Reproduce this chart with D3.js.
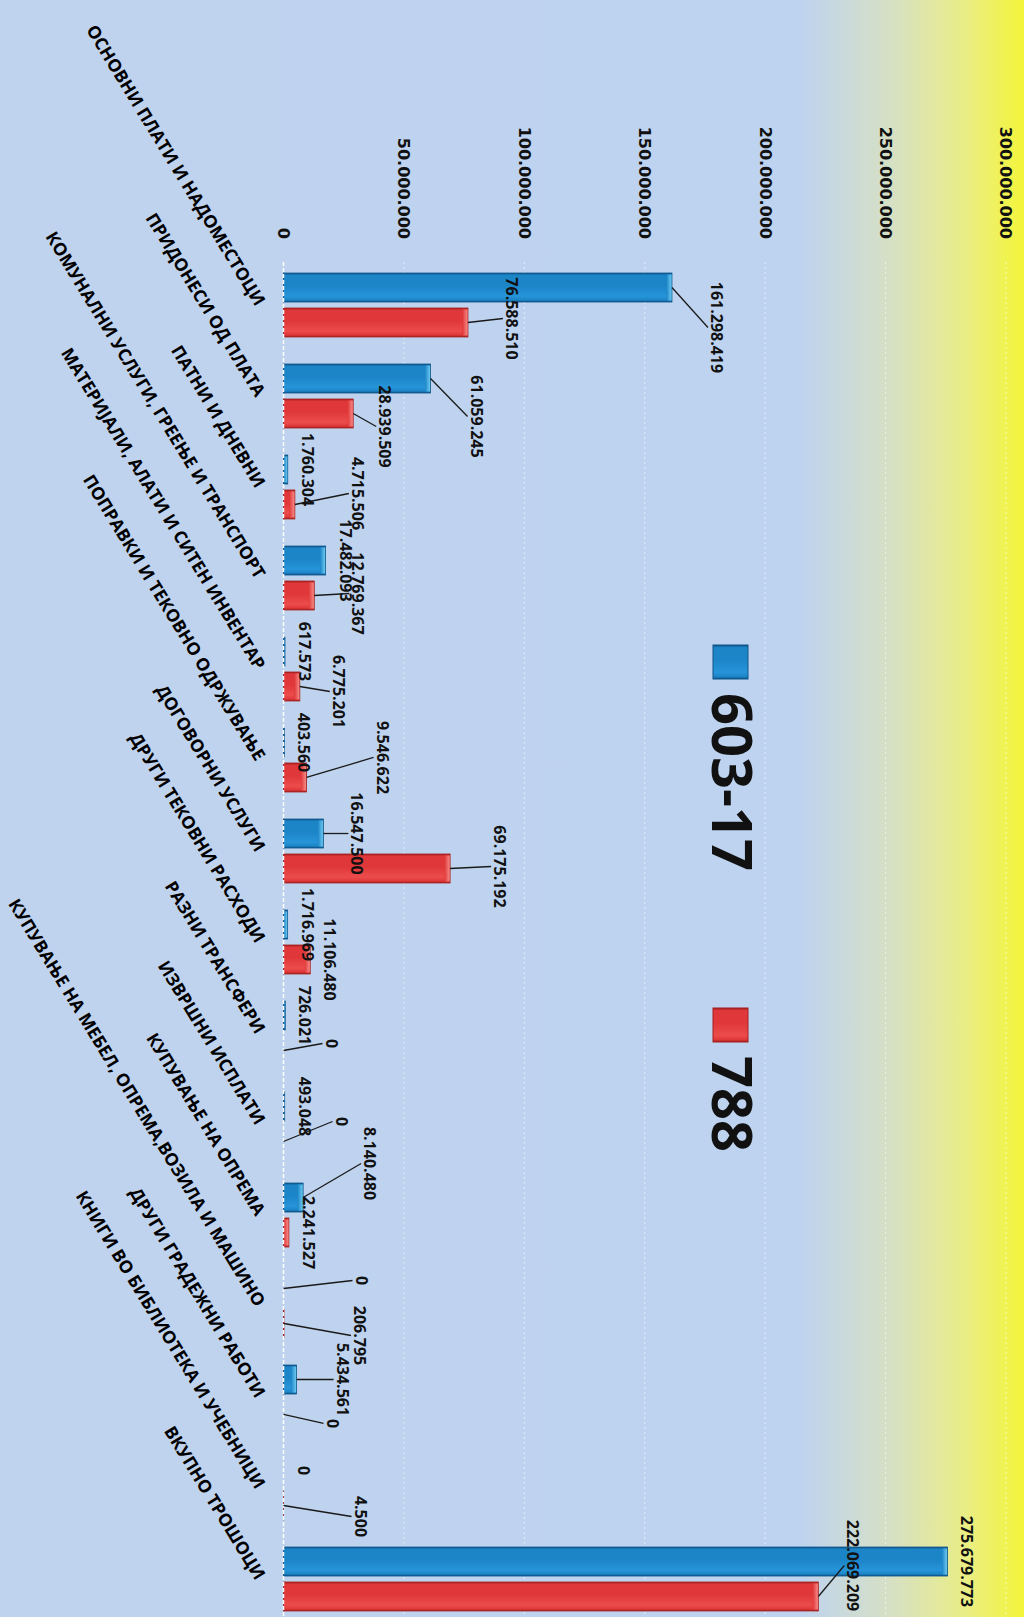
<!DOCTYPE html>
<html>
<head>
<meta charset="utf-8">
<script src="https://cdn.jsdelivr.net/npm/d3@7"></script>
<style>
  body { margin: 0; background: #bed3f0; }
  svg { display: block; }
</style>
</head>
<body>
<svg id="chart" width="1024" height="1617"></svg>
<script>
const categories = [
  "ОСНОВНИ ПЛАТИ И НАДОМЕСТОЦИ",
  "ПРИДОНЕСИ ОД ПЛАТА",
  "ПАТНИ И ДНЕВНИ",
  "КОМУНАЛНИ УСЛУГИ, ГРЕЕЊЕ И ТРАНСПОРТ",
  "МАТЕРИЈАЛИ, АЛАТИ И СИТЕН ИНВЕНТАР",
  "ПОПРАВКИ И ТЕКОВНО ОДРЖУВАЊЕ",
  "ДОГОВОРНИ УСЛУГИ",
  "ДРУГИ ТЕКОВНИ РАСХОДИ",
  "РАЗНИ ТРАНСФЕРИ",
  "ИЗВРШНИ ИСПЛАТИ",
  "КУПУВАЊЕ НА ОПРЕМА",
  "КУПУВАЊЕ НА МЕБЕЛ, ОПРЕМА,ВОЗИЛА И МАШИНО",
  "ДРУГИ ГРАДЕЖНИ РАБОТИ",
  "КНИГИ ВО БИБЛИОТЕКА И УЧЕБНИЦИ",
  "ВКУПНО ТРОШОЦИ"
];
const series = ["603-17", "788"];
const values603 = [161298419, 61059245, 1760304, 17482093, 617573, 403560, 16547500,
  1716969, 726021, 493048, 8140480, 0, 5434561, 0, 275679773];
const values788 = [76588510, 28939509, 4715506, 12769367, 6775201, 9546622, 69175192,
  11106480, 0, 0, 2241527, 206795, 0, 4500, 222069209];
const tickValues = [0, 50000000, 100000000, 150000000, 200000000, 250000000, 300000000];

// labels that were dragged away from the bar end: [along value, along category], null = default
const nudge603 = [[45, 40], [46, 38], null, null, null, null, [34, 0], null, null, null,
  [67, -34], [78, -8], [46, 0], null, null];
const nudge788 = [[44, -4], [32, 13], [63, -11], [44, -2], [39, 5], [76, -20], [50, -2], null,
  [48, -7], [58, -20], null, [76, 12], [49, 9], [77, 11], [35, -31]];

const colors = { "603-17": ["#0e5488", "#1c85c8", "#2794d9", "#6cc8ef"],
                 "788": ["#a4201f", "#e0383a", "#ec4c4c", "#f58a86"] };

const svg = d3.select("#chart");
const W = 1024, H = 1617;
const fmt = d3.formatLocale({ decimal: ",", thousands: ".", grouping: [3], currency: ["", ""] }).format(",d");

// background
const defs = svg.append("defs");
const bg = defs.append("linearGradient").attr("id", "bg").attr("x1", 0).attr("x2", 1).attr("y1", 0).attr("y2", 0);
[[0, "#bfd3ee"], [0.78, "#bed3f0"], [0.87, "#d6e0c4"], [0.94, "#e9ed88"], [1, "#f4f53a"]]
  .forEach(s => bg.append("stop").attr("offset", s[0]).attr("stop-color", s[1]));
svg.append("rect").attr("width", W).attr("height", H).attr("fill", "url(#bg)");

series.forEach((s, i) => {
  const c = colors[s];
  const gr = defs.append("linearGradient").attr("id", "bar" + i).attr("x1", 0).attr("x2", 1).attr("y1", 0).attr("y2", 0);
  [[0, c[0]], [0.08, c[1]], [0.45, c[1]], [0.8, c[2]], [0.93, c[1]], [1, c[0]]]
    .forEach(st => gr.append("stop").attr("offset", st[0]).attr("stop-color", st[1]));
  const cap = defs.append("linearGradient").attr("id", "cap" + i).attr("x1", 0).attr("x2", 0).attr("y1", 0).attr("y2", 1);
  cap.append("stop").attr("offset", 0).attr("stop-color", c[3]);
  cap.append("stop").attr("offset", 1).attr("stop-color", c[1]);
});

// the chart is a column chart turned 90 degrees clockwise
const g = svg.append("g").attr("transform", `translate(${W},0) rotate(90)`);

const x0 = d3.scaleBand().domain(categories).range([259.5, 1624.5])
  .paddingInner(0.297).paddingOuter(0.1485);
const x1 = d3.scaleBand().domain(series).range([0, x0.bandwidth()]).paddingInner(0.171);
const y = d3.scaleLinear().domain([0, 300000000]).range([740.5, 18]);

// gridlines
g.selectAll(".grid").data(tickValues.slice(1)).enter().append("line")
  .attr("class", "grid")
  .attr("x1", 262).attr("x2", H)
  .attr("y1", d => y(d)).attr("y2", d => y(d))
  .attr("stroke", "#ffffff").attr("stroke-opacity", 0.6)
  .attr("stroke-dasharray", "2,3");

// value axis
const yAxis = g.append("g").attr("transform", "translate(259,0)")
  .call(d3.axisLeft(y).tickValues(tickValues).tickSize(0).tickPadding(20).tickFormat(fmt));
yAxis.select(".domain").remove();
yAxis.selectAll("text")
  .attr("font-family", "DejaVu Sans").attr("font-weight", "bold")
  .attr("font-size", 16).attr("fill", "#111");

const rows = categories.map((c, i) => ({
  cat: c,
  vals: [
    { s: series[0], i: 0, v: values603[i], n: nudge603[i], cat: c },
    { s: series[1], i: 1, v: values788[i], n: nudge788[i], cat: c }
  ]
}));
const all = rows.flatMap(r => r.vals);

// bars
const bars = g.selectAll(".bar").data(all).enter().append("g").attr("class", "bar");
bars.append("rect")
  .attr("x", d => x0(d.cat) + x1(d.s))
  .attr("y", d => y(d.v))
  .attr("width", x1.bandwidth())
  .attr("height", d => y(0) - y(d.v))
  .attr("fill", d => `url(#bar${d.i})`)
  .attr("stroke", d => colors[d.s][0]).attr("stroke-width", d => d.v > 0 ? 0.8 : 0);
bars.filter(d => y(0) - y(d.v) > 3).append("rect")
  .attr("x", d => x0(d.cat) + x1(d.s) + 1.5)
  .attr("y", d => y(d.v) + 0.5)
  .attr("width", x1.bandwidth() - 3)
  .attr("height", d => Math.min(5, y(0) - y(d.v) - 1))
  .attr("fill", d => `url(#cap${d.i})`);

// zero line
g.append("line")
  .attr("x1", 262).attr("x2", H)
  .attr("y1", y(0)).attr("y2", y(0))
  .attr("stroke", "#ffffff").attr("stroke-width", 1.5)
  .attr("stroke-dasharray", "4,2");

// data labels
const lab = d => {
  const cx = x0(d.cat) + x1(d.s) + x1.bandwidth() / 2;
  const n = d.n || [20, 0];
  return { bx: cx, by: y(d.v), lx: cx + n[1], ly: y(d.v) - n[0] };
};
g.selectAll(".leader").data(all.filter(d => d.n)).enter().append("line")
  .attr("class", "leader")
  .attr("x1", d => lab(d).bx).attr("y1", d => lab(d).by)
  .attr("x2", d => lab(d).lx).attr("y2", d => lab(d).ly + 9)
  .attr("stroke", "#1a1a1a").attr("stroke-width", 1.3);
g.selectAll(".dlabel").data(all).enter().append("text")
  .attr("class", "dlabel")
  .attr("x", d => lab(d).lx).attr("y", d => lab(d).ly)
  .attr("text-anchor", "middle").attr("dominant-baseline", "central")
  .attr("font-family", "Open Sans").attr("font-weight", "bold")
  .attr("font-size", 16).attr("fill", "#111")
  .text(d => fmt(d.v));

// category labels
g.selectAll(".clabel").data(categories).enter().append("text")
  .attr("class", "clabel")
  .attr("transform", d => `translate(${x0(d) + x0.bandwidth() / 2 + 2},${y(0) + 28}) rotate(-31.5)`)
  .attr("text-anchor", "end")
  .attr("font-family", "Open Sans").attr("font-weight", "bold")
  .attr("font-size", 17.5).attr("fill", "#000")
  .text(d => d);

// legend
const leg = g.selectAll(".legend").data(series).enter().append("g")
  .attr("class", "legend")
  .attr("transform", (d, i) => `translate(${645 + i * 363},276)`);
leg.append("rect")
  .attr("width", 34).attr("height", 35)
  .attr("fill", (d, i) => `url(#bar${i})`)
  .attr("stroke", d => colors[d][0]).attr("stroke-width", 1);
leg.append("text")
  .attr("x", 48).attr("y", 36)
  .attr("font-family", "Open Sans").attr("font-weight", "bold")
  .attr("font-size", 56).attr("fill", "#111")
  .text(d => d);
</script>
</body>
</html>
